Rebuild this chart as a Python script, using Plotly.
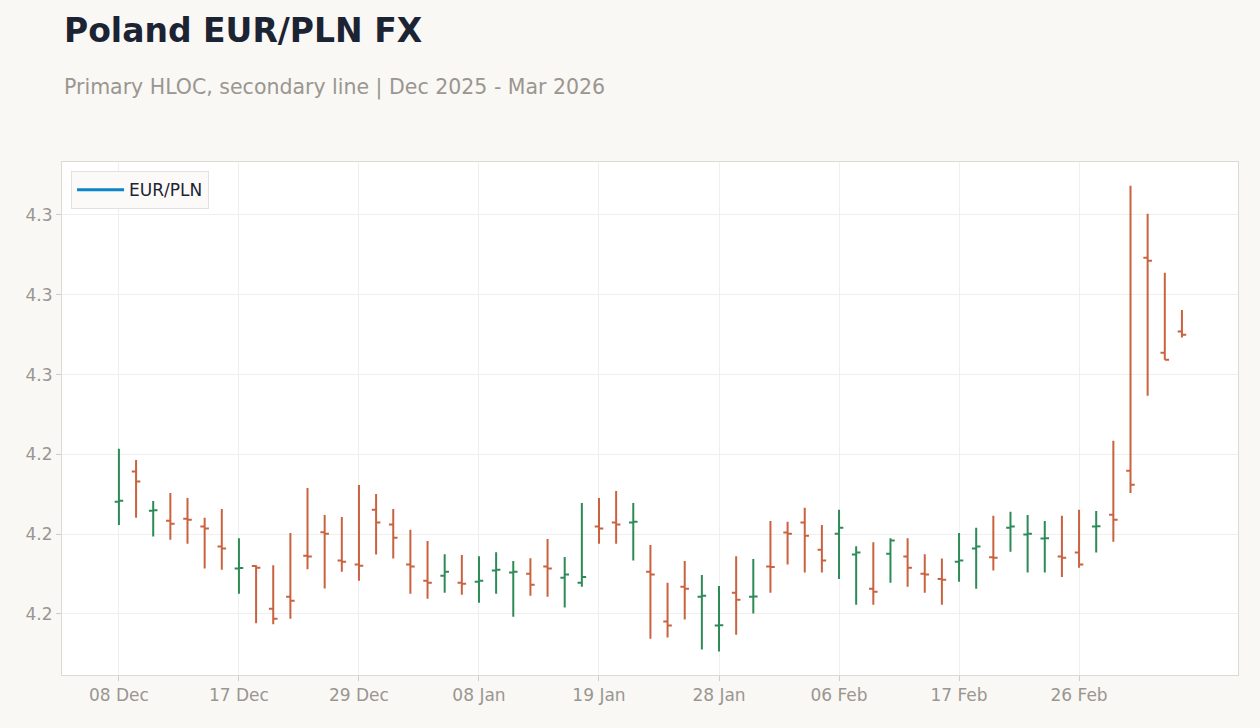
import pandas as pd
import plotly.graph_objects as go

# Trading days (weekends and 25 Dec / 01 Jan removed)
holidays = ["2025-12-25", "2026-01-01"]
dates = [d for d in pd.bdate_range("2025-12-08", "2026-03-06") if d.strftime("%Y-%m-%d") not in holidays]
date_labels = [d.strftime("%Y-%m-%d") for d in dates]

open_ = [4.2281, 4.2357, 4.2259, 4.2234, 4.2239, 4.2219, 4.2169, 4.2114, 4.2120, 4.2013,
         4.2043, 4.2146, 4.2205, 4.2134, 4.2124, 4.2261, 4.2224, 4.2124, 4.2083, 4.2096,
         4.2078, 4.2081, 4.2109, 4.2104, 4.2101, 4.2119, 4.2091, 4.2078, 4.2219, 4.2229,
         4.2229, 4.2106, 4.1981, 4.2068, 4.2043, 4.1971, 4.2053, 4.2043, 4.2119, 4.2204,
         4.2229, 4.2161, 4.2201, 4.2149, 4.2063, 4.2151, 4.2144, 4.2101, 4.2088, 4.2131,
         4.2164, 4.2142, 4.2216, 4.2199, 4.2189, 4.2144, 4.2154, 4.2219, 4.2249, 4.2359,
         4.2893, 4.2655, 4.2708]
high = [4.2414, 4.2386, 4.2283, 4.2303, 4.2291, 4.2241, 4.2263, 4.2190, 4.2122, 4.2122,
        4.2203, 4.2316, 4.2248, 4.2243, 4.2323, 4.2301, 4.2263, 4.2211, 4.2183, 4.2150,
        4.2148, 4.2145, 4.2155, 4.2133, 4.2140, 4.2188, 4.2143, 4.2278, 4.2291, 4.2308,
        4.2278, 4.2173, 4.2078, 4.2133, 4.2098, 4.2070, 4.2145, 4.2138, 4.2233, 4.2231,
        4.2266, 4.2223, 4.2261, 4.2170, 4.2180, 4.2190, 4.2190, 4.2150, 4.2139, 4.2203,
        4.2216, 4.2246, 4.2256, 4.2248, 4.2233, 4.2246, 4.2261, 4.2258, 4.2434, 4.3073,
        4.3003, 4.2855, 4.2762]
low = [4.2223, 4.2241, 4.2194, 4.2186, 4.2176, 4.2114, 4.2111, 4.2051, 4.1977, 4.1974,
       4.1988, 4.2112, 4.2064, 4.2106, 4.2083, 4.2149, 4.2139, 4.2051, 4.2038, 4.2053,
       4.2048, 4.2028, 4.2051, 4.1993, 4.2046, 4.2043, 4.2016, 4.2068, 4.2176, 4.2176,
       4.2134, 4.1938, 4.1941, 4.1986, 4.1911, 4.1906, 4.1948, 4.2001, 4.2053, 4.2124,
       4.2104, 4.2104, 4.2088, 4.2023, 4.2023, 4.2078, 4.2068, 4.2053, 4.2023, 4.2081,
       4.2063, 4.2109, 4.2156, 4.2104, 4.2104, 4.2093, 4.2116, 4.2154, 4.2181, 4.2303,
       4.2547, 4.2637, 4.2693]
close = [4.2284, 4.2332, 4.2260, 4.2226, 4.2236, 4.2214, 4.2164, 4.2115, 4.2116, 4.1988,
         4.2033, 4.2144, 4.2201, 4.2131, 4.2121, 4.2229, 4.2191, 4.2119, 4.2078, 4.2106,
         4.2076, 4.2083, 4.2111, 4.2106, 4.2073, 4.2114, 4.2099, 4.2093, 4.2214, 4.2224,
         4.2231, 4.2099, 4.1971, 4.2063, 4.2046, 4.1972, 4.2036, 4.2044, 4.2118, 4.2201,
         4.2196, 4.2134, 4.2216, 4.2154, 4.2056, 4.2184, 4.2116, 4.2099, 4.2086, 4.2134,
         4.2169, 4.2141, 4.2219, 4.2201, 4.2190, 4.2141, 4.2124, 4.2220, 4.2236, 4.2324,
         4.2885, 4.2637, 4.2700]

tick_idx = list(range(0, len(date_labels), 7))
tick_vals = [date_labels[i] for i in tick_idx]
tick_text = [dates[i].strftime("%d %b") for i in tick_idx]

TITLE = "Poland EUR/PLN FX"
SUBTITLE = "Primary HLOC, secondary line | Dec 2025 - Mar 2026"

GREEN = "#2e8b57"
RED = "#c9633f"
GRAY = "#9a9690"

fig = go.Figure()
fig.add_trace(go.Ohlc(
    x=date_labels, open=open_, high=high, low=low, close=close,
    increasing=dict(line=dict(color=GREEN, width=2)),
    decreasing=dict(line=dict(color=RED, width=2)),
    tickwidth=0.25, showlegend=False, name="EUR/PLN HLOC",
))
fig.add_trace(go.Scatter(
    x=[None], y=[None], mode="lines", name="EUR/PLN",
    line=dict(color="#0b84c9", width=3), showlegend=True,
))

fig.update_layout(
    width=1260, height=728,
    paper_bgcolor="#f9f8f5", plot_bgcolor="#ffffff",
    font=dict(family="DejaVu Sans", color=GRAY, size=17),
    margin=dict(l=62, r=22, t=162, b=53),
    legend=dict(
        x=0.0077, y=0.982, xanchor="left", yanchor="top",
        bgcolor="#fbfaf8", bordercolor="#e4e1dc", borderwidth=1,
        font=dict(size=17, color="#1c2333"), itemwidth=47,
    ),
    xaxis=dict(
        type="category", range=[-3.32, 65.27],
        tickmode="array", tickvals=tick_vals, ticktext=tick_text,
        rangeslider=dict(visible=False),
        showgrid=True, gridcolor="#efefef",
        showline=True, linecolor="#dcd9d3", mirror=True,
        ticks="outside", ticklen=5, tickcolor="#cfccc6",
        tickfont=dict(size=17, color=GRAY),
    ),
    yaxis=dict(
        range=[4.18471, 4.31328], tick0=4.20, dtick=0.02, tickformat=".1f",
        showgrid=True, gridcolor="#efefef",
        showline=True, linecolor="#dcd9d3", mirror=True,
        ticks="outside", ticklen=5, tickcolor="#cfccc6",
        tickfont=dict(size=17, color=GRAY), zeroline=False,
    ),
    annotations=[
        dict(text="<b>" + TITLE + "</b>", xref="paper", yref="paper", x=0, y=1.2573,
             xanchor="left", yanchor="middle", showarrow=False,
             font=dict(size=33, color="#1c2333", family="DejaVu Sans")),
        dict(text=SUBTITLE, xref="paper", yref="paper", x=0, y=1.146,
             xanchor="left", yanchor="middle", showarrow=False,
             font=dict(size=20.5, color=GRAY, family="DejaVu Sans")),
    ],
)

fig.write_html("out.html")
